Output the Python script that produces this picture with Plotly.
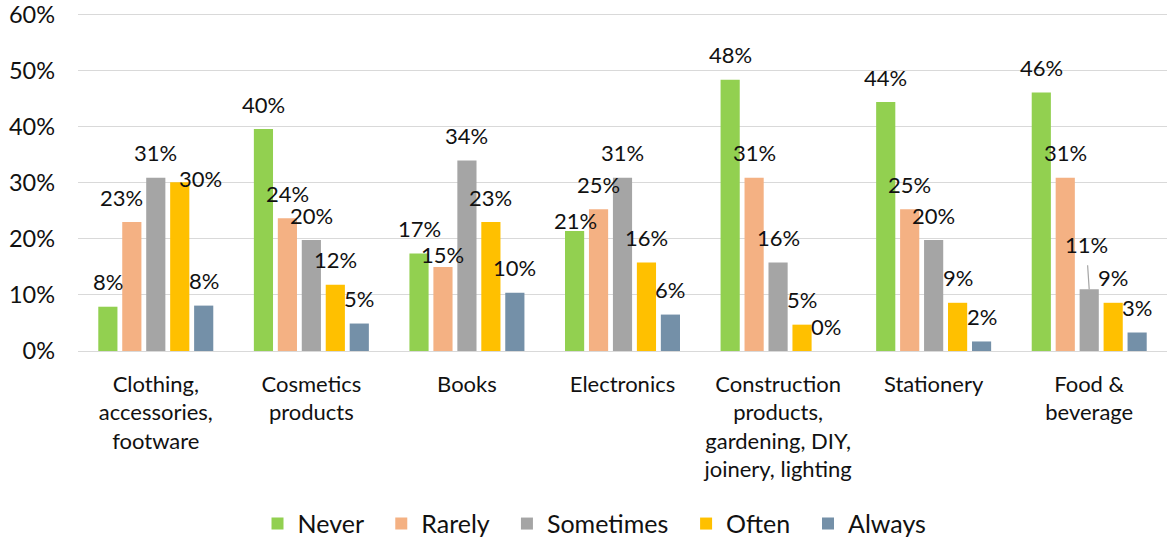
import plotly.graph_objects as go

# Survey: how often respondents buy each product group online
categories = [
    "Clothing,<br>accessories,<br>footware",
    "Cosmetics<br>products",
    "Books",
    "Electronics",
    "Construction<br>products,<br>gardening, DIY,<br>joinery, lighting",
    "Stationery",
    "Food &<br>beverage",
]

series_names = ["Never", "Rarely", "Sometimes", "Often", "Always"]

never = [7.9, 39.6, 17.4, 21.4, 48.4, 44.4, 46.1]
rarely = [23.0, 23.7, 15.0, 25.3, 30.9, 25.3, 30.9]
sometimes = [30.9, 19.8, 34.0, 30.9, 15.8, 19.8, 11.0]
often = [30.1, 11.8, 23.0, 15.8, 4.7, 8.6, 8.6]
always = [8.1, 4.9, 10.4, 6.5, 0.0, 1.7, 3.3]

values = [never, rarely, sometimes, often, always]
colors = ["#92D050", "#F4B183", "#A5A5A5", "#FFC000", "#7490A8"]

FONT = "Lato"
TEXT = "#111111"
BARGAP = 0.23
BARGROUPGAP = 0.2
NBSP = "\u00a0"

fig = go.Figure()
for name, vals, col in zip(series_names, values, colors):
    fig.add_trace(go.Bar(
        # trailing spaces widen the legend entries
        name=name + NBSP * 2,
        x=categories,
        y=[v / 100 for v in vals],
        marker=dict(color=col, line=dict(width=0)),
        hoverinfo="skip",
    ))

# label nudges (pixels) for a few crowded labels: (category index, series index) -> (dx, dy)
nudges = {(0, 1): (-10, 0), (0, 3): (21, -21), (2, 1): (0, -13), (3, 0): (1, -14)}
# label pulled away from its bar and joined with a leader line
leader = {(6, 2): (-3, -45)}

n = len(series_names)
slot = (1 - BARGAP) / n
for j, vals in enumerate(values):
    for i, v in enumerate(vals):
        xc = i + (j - (n - 1) / 2) * slot
        label = f"{round(v):.0f}%"
        if (i, j) in leader:
            ax, ay = leader[(i, j)]
            fig.add_annotation(
                x=xc, y=v / 100, text=label, showarrow=True,
                arrowhead=0, arrowwidth=1.2, arrowcolor="#A5A5A5",
                ax=ax, ay=ay, startstandoff=6, standoff=0,
                font=dict(family=FONT, size=22, color=TEXT),
            )
            continue
        dx, dy = nudges.get((i, j), (0, 0))
        fig.add_annotation(
            x=xc, y=v / 100, text=label, showarrow=False,
            xanchor="center", yanchor="middle",
            xshift=dx, yshift=25 + dy,
            font=dict(family=FONT, size=22, color=TEXT),
        )

fig.update_layout(
    width=1167, height=540,
    margin=dict(l=78, r=0, t=10, b=189),
    barmode="group", bargap=BARGAP, bargroupgap=BARGROUPGAP,
    plot_bgcolor="white", paper_bgcolor="white",
    font=dict(family=FONT, size=22, color=TEXT),
    showlegend=True,
    legend=dict(
        orientation="h", xref="container", yref="container",
        x=0.515, xanchor="center", y=0.03, yanchor="middle",
        font=dict(family=FONT, size=25, color=TEXT),
        itemwidth=30, tracegroupgap=0,
    ),
)
fig.update_yaxes(
    range=[0, 0.603], tickvals=[0, 0.1, 0.2, 0.3, 0.4, 0.5, 0.6], tickformat=".0%",
    showgrid=True, gridcolor="#D9D9D9", gridwidth=1.3,
    zeroline=False, showline=False, ticks="",
    ticklabelstandoff=22, ticklabeloverflow="allow",
    tickfont=dict(family=FONT, size=23.5, color=TEXT),
)
fig.update_xaxes(
    showline=True, linecolor="#D9D9D9", linewidth=1.3,
    ticks="", ticklabelstandoff=13,
    tickfont=dict(family=FONT, size=22, color=TEXT),
)

fig.write_html("out.html")
